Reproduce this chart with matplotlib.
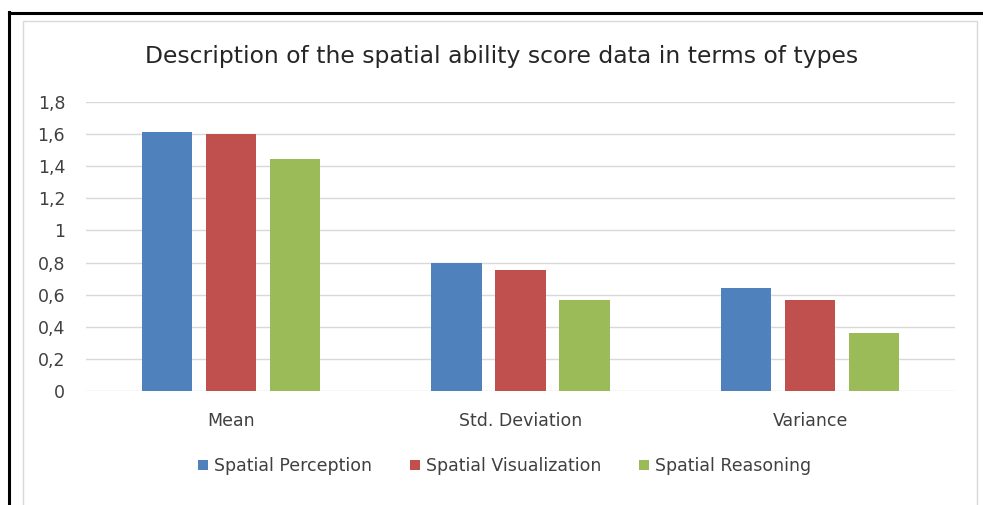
import matplotlib.pyplot as plt
import matplotlib.patches as mpatches
import numpy as np

# data
categories = ['Mean', 'Std. Deviation', 'Variance']
series = ['Spatial Perception', 'Spatial Visualization', 'Spatial Reasoning']
perception = [1.613, 0.800, 0.640]
visualization = [1.600, 0.752, 0.567]
reasoning = [1.445, 0.565, 0.363]
yticks = [0, 0.2, 0.4, 0.6, 0.8, 1, 1.2, 1.4, 1.6, 1.8]
ytick_labels = ['0', '0,2', '0,4', '0,6', '0,8', '1', '1,2', '1,4', '1,6', '1,8']

colors = ['#4f81bd', '#c0504d', '#9bbb59']

W, H = 983, 505
fig = plt.figure(figsize=(W / 100, H / 100), dpi=100)

# outer black frame (left, top) and the light chart-area frame
fig.add_artist(plt.Line2D([9 / W, 9 / W], [0, 1 - 12 / H], color='black', lw=2.2, transform=fig.transFigure))
fig.add_artist(plt.Line2D([9 / W, 1], [1 - 12.5 / H, 1 - 12.5 / H], color='black', lw=2.2, transform=fig.transFigure))
fig.add_artist(mpatches.Rectangle((22.5 / W, -0.05), (977 - 22.5) / W, 1.05 - 21 / H,
                                  fill=False, edgecolor='#d9d9d9', lw=1.0, transform=fig.transFigure))

ax = fig.add_axes([86 / W, 1 - 391 / H, (955 - 86) / W, (391 - 102) / H])

x = np.arange(len(categories))
width = 0.173
step = 0.221
for i, (vals, name) in enumerate(zip([perception, visualization, reasoning], series)):
    ax.bar(x + (i - 1) * step, vals, width, color=colors[i], label=name, zorder=3)

ax.set_xlim(-0.5, 2.5)
ax.set_ylim(0, 1.8)
ax.set_yticks(yticks)
ax.set_yticklabels(ytick_labels)
ax.set_xticks(x)
ax.set_xticklabels(categories)
ax.grid(axis='y', color='#d9d9d9', lw=1, zorder=0)
for s in ax.spines.values():
    s.set_visible(False)
ax.tick_params(length=0, labelsize=12.5, colors='#404040')
ax.tick_params(axis='y', pad=15)
ax.tick_params(axis='x', pad=15)

fig.text(502 / W, 1 - 57 / H, 'Description of the spatial ability score data in terms of types',
         ha='center', va='center', fontsize=16.9, color='#262626')

ax.legend(loc='center', bbox_to_anchor=(0.482, (391 - 466) / (391 - 102)), ncol=3, frameon=False,
          fontsize=12.5, handlelength=0.55, handleheight=0.55, handletextpad=0.35, columnspacing=2.2,
          labelcolor='#404040')

fig.savefig('out.png', dpi=100)
